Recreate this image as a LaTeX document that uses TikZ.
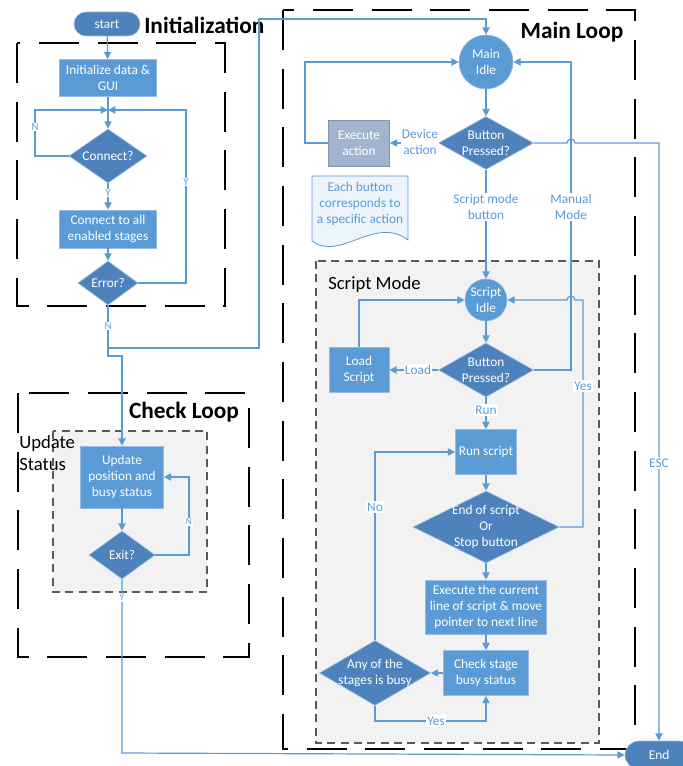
\documentclass[tikz,border=0pt]{standalone}
\usepackage{fontspec}
\setmainfont{Carlito}
\usetikzlibrary{shapes.geometric,arrows.meta}
\definecolor{lblue}{RGB}{91,155,213}
\definecolor{dblue}{RGB}{77,130,189}
\definecolor{edgeb}{RGB}{150,186,225}
\definecolor{grayfill}{RGB}{242,242,242}
\definecolor{grayline}{RGB}{90,90,90}
\definecolor{execfill}{RGB}{163,180,207}
\definecolor{execedge}{RGB}{130,150,178}
\definecolor{notefill}{RGB}{238,244,251}
\begin{document}
\begin{tikzpicture}[x=0.75pt,y=-0.75pt,
 txt/.style={font=\fontsize{10}{12}\selectfont},
 box/.style={rectangle,fill=lblue,draw=edgeb,line width=0.5pt,text=white,align=center,inner sep=0pt,txt},
 dia/.style={diamond,fill=dblue,draw=edgeb,line width=0.5pt,inner sep=0pt},
 dtext/.style={text=white,align=center,txt},
 circ/.style={circle,fill=lblue,draw=edgeb,line width=0.5pt,text=white,align=center,inner sep=0pt,txt},
 term/.style={rectangle,fill=dblue,draw=edgeb,line width=0.5pt,text=white,inner sep=0pt,txt},
 wire/.style={draw=lblue,line width=0.9pt},
 arr/.style={wire,-{Triangle[length=5.5pt,width=5.5pt]}},
 lab/.style={text=lblue,fill=white,inner sep=1pt,align=center,txt},
 slab/.style={text=lblue,fill=white,inner sep=0.8pt,font=\fontsize{8}{9}\selectfont},
 tlab/.style={text=lblue,fill=white,inner sep=0.6pt,font=\fontsize{7}{8}\selectfont},
 bigframe/.style={draw=black,line width=2pt,dash pattern=on 30pt off 14pt},
 smallframe/.style={draw=grayline,fill=grayfill,line width=0.9pt,dash pattern=on 6pt off 4pt},
 titlebf/.style={font=\fontsize{17.5}{20}\selectfont\bfseries,inner sep=0pt},
 titlerg/.style={font=\fontsize{14}{16.5}\selectfont,inner sep=0pt,align=left},
]
\useasboundingbox (0,0) rectangle (682,766);

% frames
\draw[bigframe] (17,43) rectangle (225,306);
\draw[bigframe] (283,10) rectangle (635,749);
\draw[bigframe] (18,393) rectangle (249,657);
\draw[smallframe] (316,261) rectangle (599,743);
\draw[smallframe] (53,431) rectangle (207,592);

% titles
\node[titlebf,anchor=west] (tinit) at (144,25) {Initialization};
\node[titlebf] (tmain) at (572,32) {Main Loop};
\node[titlebf] (tcheck) at (184,412) {Check Loop};
\node[titlerg,anchor=west] (tscript) at (328,285) {Script Mode};
\node[titlerg,anchor=west] (tupd) at (19,453) {Update\\Status};

% nodes
\node[term,rounded corners=9pt,minimum width=49.5pt,minimum height=18pt] (start) at (107,24) {start};
\node[box,minimum width=72.75pt,minimum height=27.75pt] (init) at (108,78) {Initialize data \&\\GUI};
\node[dia,minimum width=58.5pt,minimum height=40.5pt,label={[dtext]center:{Connect?}}] (cn) at (108,156) {};
\node[box,minimum width=72.75pt,minimum height=28.5pt] (conall) at (108,229) {Connect to all\\enabled stages};
\node[dia,minimum width=45pt,minimum height=33pt,label={[dtext]center:{Error?}}] (err) at (108,283) {};

\node[circ,minimum size=40.5pt] (midle) at (486,62) {Main\\Idle};
\node[dia,minimum width=71.25pt,minimum height=39.75pt,label={[dtext]center:{Button\\Pressed?}}] (bp1) at (486,143) {};
\node[box,fill=execfill,draw=execedge,minimum width=45.75pt,minimum height=34.5pt] (exec) at (359,143) {Execute\\action};

\node[circ,minimum size=31.5pt] (sidle) at (486,300) {Script\\Idle};
\node[dia,minimum width=71.25pt,minimum height=40.5pt,label={[dtext]center:{Button\\Pressed?}}] (bp2) at (486,370) {};
\node[box,minimum width=45pt,minimum height=33.75pt] (load) at (359,370) {Load\\Script};
\node[box,minimum width=45.75pt,minimum height=33.75pt] (run) at (486,452) {Run script};
\node[dia,minimum width=109.5pt,minimum height=54pt,label={[dtext]center:{End of script\\Or\\Stop button}}] (eos) at (486,527) {};
\node[box,minimum width=90.75pt,minimum height=40.5pt] (exline) at (486,607) {Execute the current\\line of script \& move\\pointer to next line};
\node[box,minimum width=63.75pt,minimum height=33.75pt] (check) at (486,673) {Check stage\\busy status};
\node[dia,minimum width=83.25pt,minimum height=48.75pt,label={[dtext]center:{Any of the\\stages is busy}}] (any) at (375,673) {};

\node[box,minimum width=62.25pt,minimum height=46.5pt] (upd) at (122,477) {Update\\position and\\busy status};
\node[dia,minimum width=49.5pt,minimum height=36pt,label={[dtext]center:{Exit?}}] (exit) at (122,555) {};

\node[term,rounded corners=10.5pt,minimum width=51pt,minimum height=21pt] (end) at (659,755) {End};

% note
\draw[draw=lblue,fill=notefill,line width=0.6pt] (312,176) -- (408,176) -- (408,240) .. controls (375,215) and (340,262) .. (312,241) -- cycle;
\node[txt,text=lblue,align=center,inner sep=0pt] (note) at (360,204) {Each button\\corresponds to\\a specific action};

% coordinates
\coordinate (m1) at (108,110);
\coordinate (nl) at (35,110);
\coordinate (yl) at (186,110);
\coordinate (b1) at (108,348);
\coordinate (b2) at (108,356);
\coordinate (b3) at (122,356);
\coordinate (c1) at (259,348);
\coordinate (c2) at (259,19);
\coordinate (c3) at (486,19);
\coordinate (el) at (305,62);
\coordinate (mm1) at (571,370);
\coordinate (mm2) at (571,62);
\coordinate (e1) at (567,143);
\coordinate (e2) at (659,143);
\coordinate (y1) at (583,527);
\coordinate (y2) at (583,300);
\coordinate (y3) at (575,300);
\coordinate (q1) at (375,721);
\coordinate (x1) at (189,555);
\coordinate (x2) at (189,477);
\coordinate (z1) at (122,753);

% connectors: initialization
\draw[arr] (start) -- (init);
\draw[wire] (init) -- (m1);
\draw[arr] (m1) -- (cn);
\draw[arr] (cn.west) -| (nl) -- (m1);
\draw[arr] (cn) -- (conall);
\draw[arr] (conall) -- (err);
\draw[arr] (err.east) -| (yl) -- (m1);
\draw[arr] (err.south) -- (b2) -- (b3) -- (upd.north);
\draw[arr] (b1) -- (c1) -- (c2) -- (c3) -- (midle.north);
\node[slab] (ln1) at (35,127) {N};
\node[slab] (ly1) at (108,193) {Y};
\node[slab] (ly2) at (186,182) {Y};
\node[slab] (ln2) at (108,326) {N};

% main loop
\draw[arr] (midle) -- (bp1);
\draw[arr] (bp1.west) -- (exec.east);
\draw[arr] (exec.west) -| (el) -- (midle.west);
\draw[arr] (bp1.south) -- (sidle.north);
\draw[arr] (bp2.east) -- (mm1) -- (mm2) -- (midle.east);
\draw[arr] (bp1.east) -- (e1) arc[start angle=180,end angle=0,radius=3pt] -- (e2) -- (end.north);
\node[lab] (ldev) at (420,142) {Device\\action};
\node[lab] (lsm) at (486,207) {Script mode\\button};
\node[lab] (lman) at (571,207) {Manual\\Mode};
\node[lab] (lesc) at (659,463) {ESC};

% script mode
\draw[arr] (sidle) -- (bp2);
\draw[arr] (bp2.west) -- (load.east);
\draw[arr] (load.north) |- (sidle.west);
\draw[arr] (bp2.south) -- (run.north);
\draw[arr] (run) -- (eos);
\draw[arr] (eos.east) -- (y1) -- (y2) -- (y3) arc[start angle=0,end angle=180,radius=3pt] -- (sidle.east);
\draw[arr] (eos.south) -- (exline.north);
\draw[arr] (exline) -- (check);
\draw[arr] (check.west) -- (any.east);
\draw[arr] (any.north) |- (run.west);
\draw[arr] (any.south) -- (q1) -| (check.south);
\node[lab] (lload) at (418,370) {Load};
\node[lab] (lrun) at (486,410) {Run};
\node[lab] (lyes) at (583,386) {Yes};
\node[lab] (lno) at (375,507) {No};
\node[lab] (lyes2) at (436,721) {Yes};

% check loop
\draw[arr] (upd) -- (exit);
\draw[arr] (exit.east) -- (x1) -- (x2) -- (upd.east);
\draw[arr] (exit.south) -- (z1) -- (end.west);
\node[tlab] (ln3) at (189,522) {N};
\node[tlab] (ly3) at (122,598) {Y};
\end{tikzpicture}
\end{document}
